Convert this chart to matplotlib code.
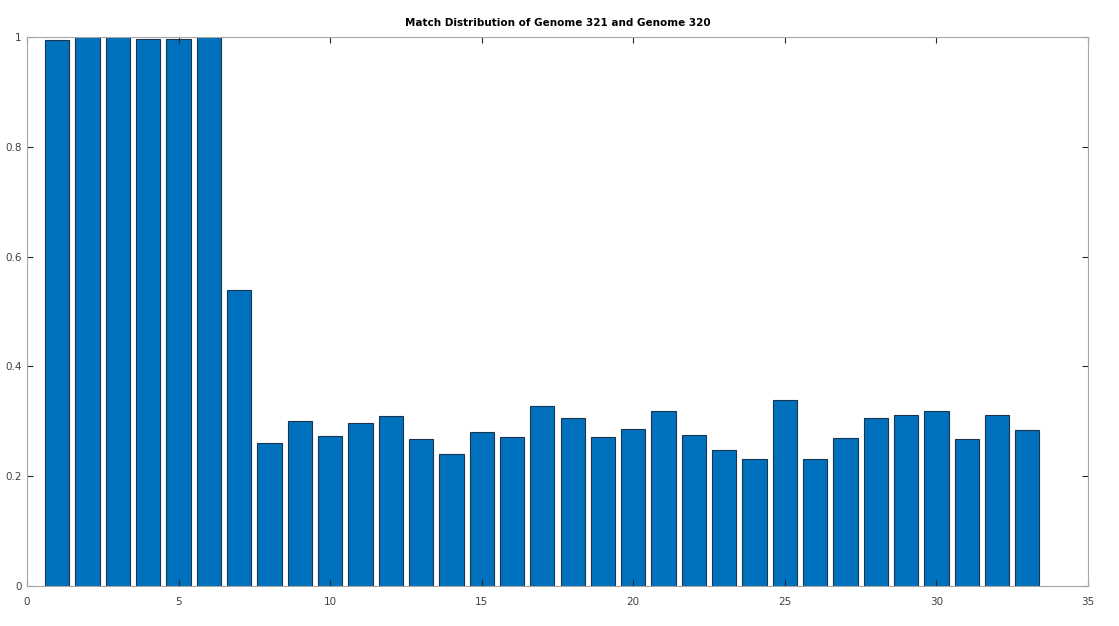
import matplotlib
matplotlib.use('Agg')
import matplotlib.pyplot as plt
from matplotlib.ticker import FuncFormatter

# match fraction per segment
segments = list(range(1, 34))
match_frac = [0.994, 1.0, 1.0, 0.997, 0.997, 1.0, 0.539, 0.260, 0.300, 0.273,
              0.297, 0.310, 0.268, 0.240, 0.280, 0.271, 0.328, 0.306, 0.271, 0.286,
              0.319, 0.275, 0.248, 0.231, 0.339, 0.231, 0.270, 0.306, 0.311, 0.319,
              0.268, 0.311, 0.284]
x_ticks = [0, 5, 10, 15, 20, 25, 30, 35]
y_ticks = [0, 0.2, 0.4, 0.6, 0.8, 1.0]

fig = plt.figure(figsize=(11.19, 6.26), dpi=100)
ax = fig.add_axes([0.0241, 0.0639, 0.9482, 0.877])
ax.bar(segments, match_frac, width=0.8, color='#0072bd', edgecolor='#1a3350', linewidth=0.8)
ax.set_xlim(0, 35)
ax.set_ylim(0, 1)
ax.set_xticks(x_ticks)
ax.set_yticks(y_ticks)
ax.yaxis.set_major_formatter(FuncFormatter(lambda v, p: '%g' % v))
ax.tick_params(direction='in', top=True, right=True, labelsize=7.5, colors='#262626',
               length=4, width=0.8, labelcolor='#404040')
ax.tick_params(axis='x', pad=8)
ax.tick_params(axis='y', pad=4)
for s in ax.spines.values():
   s.set_color('#a6a6a6')
   s.set_linewidth(0.8)
ax.set_title('Match Distribution of Genome 321 and Genome 320', fontsize=7.5, fontweight='bold', pad=8)
fig.savefig('out.png', dpi=100)
